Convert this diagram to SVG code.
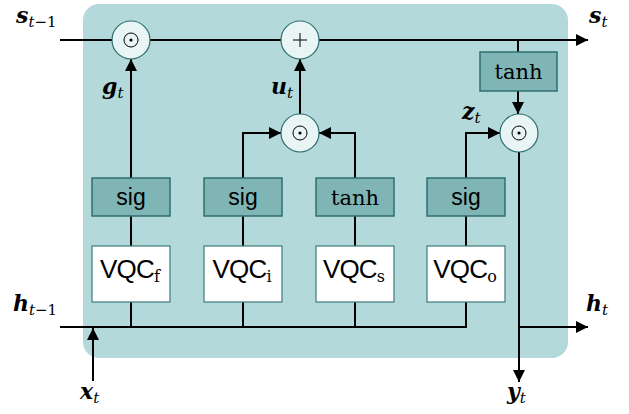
<svg xmlns="http://www.w3.org/2000/svg" width="629" height="414" viewBox="0 0 629 414">
<defs>
<marker id="ah" viewBox="0 0 12 12" refX="12" refY="6" markerWidth="12" markerHeight="12" markerUnits="userSpaceOnUse" orient="auto">
<path d="M0,0 L12,6 L0,12 z" fill="#000"/>
</marker>
<style>
.ln{stroke:#000;stroke-width:2;fill:none}
.ar{stroke:#000;stroke-width:2;fill:none;marker-end:url(#ah)}
.act{fill:#7fb5b5;stroke:#2f6f6f;stroke-width:1.5}
.vqc{fill:#fff;stroke:#3d7a7a;stroke-width:1.2}
.op{fill:#e9f4f4;stroke:#2f6f6f;stroke-width:1.2}
.sym{stroke:#000;stroke-width:1;fill:none}
.sans{font-family:"Liberation Sans","Open Sans",sans-serif;font-size:23px;fill:#000}
.vq{font-family:"Liberation Sans","Open Sans",sans-serif;font-size:26px;letter-spacing:-0.8px;fill:#000}
.ser{font-family:"DejaVu Serif","Liberation Serif",serif;font-size:21px;fill:#000}
.lab{font-family:"DejaVu Serif","Liberation Serif",serif;font-size:22px;font-weight:bold;font-style:italic;fill:#000}
.sub{font-family:"DejaVu Serif","Liberation Serif",serif;font-size:15px;font-style:italic;fill:#000}
.subr{font-family:"DejaVu Serif","Liberation Serif",serif;font-size:15px;fill:#000}
.vs{font-family:"DejaVu Serif","Liberation Serif",serif;font-size:16px;fill:#000}
</style>
</defs>
<rect x="83" y="4" width="485" height="354" rx="16" fill="#b3d9db"/>
<g id="connectors">
<line class="ln" x1="60" y1="40" x2="112" y2="40"/>
<line class="ln" x1="150" y1="40" x2="281" y2="40"/>
<line class="ar" x1="319" y1="40" x2="588" y2="40"/>
<line class="ln" x1="518" y1="40" x2="518" y2="52"/>
<line class="ar" x1="518" y1="91" x2="518" y2="114"/>
<line class="ar" x1="131" y1="178" x2="131" y2="59"/>
<polyline class="ar" points="243,178 243,133 281,133"/>
<polyline class="ar" points="355,178 355,133 319,133"/>
<polyline class="ar" points="466,178 466,133 500,133"/>
<line class="ar" x1="300" y1="114" x2="300" y2="59"/>
<line class="ln" x1="131" y1="216" x2="131" y2="246"/>
<line class="ln" x1="243" y1="216" x2="243" y2="246"/>
<line class="ln" x1="355" y1="216" x2="355" y2="246"/>
<line class="ln" x1="466" y1="216" x2="466" y2="246"/>
<polyline class="ln" points="60,327 466,327 466,302"/>
<line class="ln" x1="131" y1="302" x2="131" y2="327"/>
<line class="ln" x1="243" y1="302" x2="243" y2="327"/>
<line class="ln" x1="355" y1="302" x2="355" y2="327"/>
<line class="ar" x1="93" y1="381" x2="93" y2="328"/>
<line class="ar" x1="519" y1="152" x2="519" y2="382"/>
<line class="ar" x1="519" y1="327" x2="588" y2="327"/>
</g>
<g id="mul_f"><circle class="op" cx="131" cy="40" r="19"/><circle class="sym" cx="131" cy="40" r="7"/><circle cx="131" cy="40" r="1.6" fill="#000"/></g>
<g id="add"><circle class="op" cx="300" cy="40" r="19"/><path class="sym" d="M293,40 H307 M300,33 V47"/></g>
<g id="mul_i"><circle class="op" cx="300" cy="133" r="19"/><circle class="sym" cx="300" cy="133" r="7"/><circle cx="300" cy="133" r="1.6" fill="#000"/></g>
<g id="mul_o"><circle class="op" cx="519" cy="133" r="19"/><circle class="sym" cx="519" cy="133" r="7"/><circle cx="519" cy="133" r="1.6" fill="#000"/></g>
<g id="tanh_out"><rect class="act" x="480" y="52" width="77" height="39"/><text class="ser" x="518.5" y="79" text-anchor="middle">tanh</text></g>
<g id="sig_f"><rect class="act" x="92" y="178" width="78" height="38"/><text class="sans" x="131" y="205" text-anchor="middle">sig</text></g>
<g id="sig_i"><rect class="act" x="204" y="178" width="78" height="38"/><text class="sans" x="243" y="205" text-anchor="middle">sig</text></g>
<g id="tanh_s"><rect class="act" x="316" y="178" width="78" height="38"/><text class="ser" x="355" y="205" text-anchor="middle">tanh</text></g>
<g id="sig_o"><rect class="act" x="427" y="178" width="78" height="38"/><text class="sans" x="466" y="205" text-anchor="middle">sig</text></g>
<g id="vqc_f"><rect class="vqc" x="92" y="246" width="78" height="56"/><text x="130" y="278" text-anchor="middle"><tspan class="vq">VQC</tspan><tspan class="vs" dy="4">f</tspan></text></g>
<g id="vqc_i"><rect class="vqc" x="204" y="246" width="78" height="56"/><text x="242" y="278" text-anchor="middle"><tspan class="vq">VQC</tspan><tspan class="vs" dy="4">i</tspan></text></g>
<g id="vqc_s"><rect class="vqc" x="316" y="246" width="78" height="56"/><text x="354" y="278" text-anchor="middle"><tspan class="vq">VQC</tspan><tspan class="vs" dy="4">s</tspan></text></g>
<g id="vqc_o"><rect class="vqc" x="427" y="246" width="78" height="56"/><text x="465" y="278" text-anchor="middle"><tspan class="vq">VQC</tspan><tspan class="vs" dy="4">o</tspan></text></g>
<g id="labels">
<text x="16" y="23"><tspan class="lab">s</tspan><tspan class="sub" dy="4">t</tspan><tspan class="subr">−1</tspan></text>
<text x="589" y="23"><tspan class="lab">s</tspan><tspan class="sub" dy="4">t</tspan></text>
<text x="102" y="94"><tspan class="lab">g</tspan><tspan class="sub" dy="4">t</tspan></text>
<text x="271" y="94"><tspan class="lab">u</tspan><tspan class="sub" dy="4">t</tspan></text>
<text x="462" y="119"><tspan class="lab">z</tspan><tspan class="sub" dy="4">t</tspan></text>
<text x="13" y="311"><tspan class="lab">h</tspan><tspan class="sub" dy="4">t</tspan><tspan class="subr">−1</tspan></text>
<text x="586" y="311"><tspan class="lab">h</tspan><tspan class="sub" dy="4">t</tspan></text>
<text x="80" y="399"><tspan class="lab">x</tspan><tspan class="sub" dy="4">t</tspan></text>
<text x="507" y="399"><tspan class="lab">y</tspan><tspan class="sub" dy="4">t</tspan></text>
</g>
</svg>
